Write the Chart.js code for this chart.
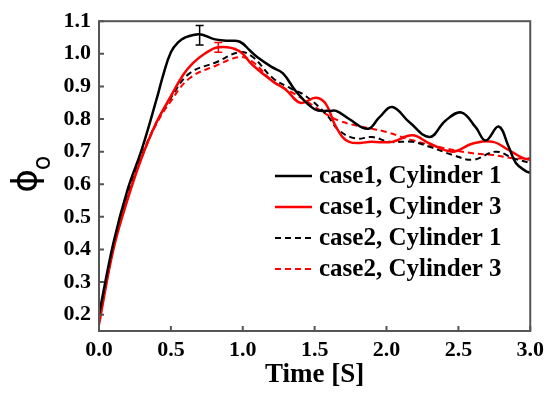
<!DOCTYPE html>
<html>
<head>
<meta charset="utf-8">
<script src="https://cdn.jsdelivr.net/npm/chart.js@4/dist/chart.umd.min.js"></script>
<style>
html, body { margin: 0; padding: 0; background: #fff; }
</style>
</head>
<body>
<canvas id="graph_phi" width="550" height="395"></canvas>
<script>
// case1, Cylinder 1
var c1cy1_t = [0, 0.1, 0.2, 0.3, 0.4, 0.45, 0.5, 0.55, 0.6, 0.7, 0.8, 0.9, 0.98, 1.05, 1.1, 1.2, 1.28, 1.37, 1.5, 1.6, 1.65, 1.74, 1.87, 1.95, 2.04, 2.16, 2.3, 2.41, 2.52, 2.62, 2.69, 2.78, 2.85, 2.9, 2.97, 3.0];
var c1cy1_v = [0.20, 0.42, 0.585, 0.71, 0.86, 0.94, 1.005, 1.035, 1.05, 1.06, 1.045, 1.04, 1.037, 1.01, 0.99, 0.96, 0.94, 0.885, 0.83, 0.825, 0.825, 0.80, 0.77, 0.805, 0.837, 0.79, 0.745, 0.795, 0.82, 0.775, 0.734, 0.777, 0.715, 0.665, 0.64, 0.635];
// case1, Cylinder 3
var c1cy3_t = [0, 0.1, 0.2, 0.3, 0.4, 0.5, 0.585, 0.65, 0.735, 0.83, 0.97, 1.07, 1.21, 1.3, 1.4, 1.51, 1.58, 1.65, 1.74, 1.9, 2.04, 2.18, 2.3, 2.46, 2.6, 2.74, 2.85, 2.95, 3.0];
var c1cy3_v = [0.17, 0.40, 0.555, 0.685, 0.79, 0.87, 0.935, 0.97, 1.0, 1.02, 1.01, 0.965, 0.915, 0.89, 0.85, 0.865, 0.845, 0.775, 0.73, 0.73, 0.73, 0.75, 0.725, 0.70, 0.725, 0.73, 0.705, 0.68, 0.675];
// case2, Cylinder 1
var c2cy1_t = [0, 0.1, 0.2, 0.3, 0.4, 0.5, 0.63, 0.82, 0.98, 1.07, 1.21, 1.33, 1.44, 1.58, 1.67, 1.79, 1.9, 2.02, 2.18, 2.3, 2.46, 2.6, 2.76, 2.88, 3.0];
var c2cy1_v = [0.19, 0.41, 0.565, 0.69, 0.79, 0.865, 0.94, 0.975, 1.005, 0.99, 0.925, 0.895, 0.87, 0.815, 0.765, 0.74, 0.745, 0.73, 0.73, 0.715, 0.69, 0.675, 0.70, 0.68, 0.665];
// case2, Cylinder 3
var c2cy3_t = [0, 0.1, 0.2, 0.3, 0.4, 0.5, 0.63, 0.82, 0.98, 1.07, 1.21, 1.33, 1.44, 1.58, 1.67, 1.79, 1.9, 2.0, 2.18, 2.41, 2.6, 2.74, 2.88, 3.0];
var c2cy3_v = [0.18, 0.405, 0.56, 0.685, 0.785, 0.855, 0.925, 0.965, 0.99, 0.975, 0.915, 0.885, 0.855, 0.815, 0.795, 0.78, 0.77, 0.76, 0.735, 0.71, 0.695, 0.69, 0.68, 0.68];

// error bars (series index, time, low, high)
var err_series = [0, 1];
var err_t = [0.70, 0.83];
var err_low = [1.027, 1.005];
var err_high = [1.087, 1.035];

var xTicks = [0, 0.5, 1.0, 1.5, 2.0, 2.5, 3.0];
var yTicks = [0.2, 0.3, 0.4, 0.5, 0.6, 0.7, 0.8, 0.9, 1.0, 1.1];

function pts(t, v) {
    return t.map(function (x, i) { return { x: x, y: v[i] }; });
}

var serif = "'Liberation Serif', 'Times New Roman', serif";

var framePlugin = {
    id: 'frame',
    afterDraw: function (chart) {
        var ctx = chart.ctx, a = chart.chartArea;
        var xs = chart.scales.x, ys = chart.scales.y;
        ctx.save();

        // error bars
        ctx.lineWidth = 1.5;
        for (var i = 0; i < err_t.length; i++) {
            var px = xs.getPixelForValue(err_t[i]);
            var p1 = ys.getPixelForValue(err_low[i]);
            var p2 = ys.getPixelForValue(err_high[i]);
            ctx.strokeStyle = chart.data.datasets[err_series[i]].borderColor;
            ctx.beginPath();
            ctx.moveTo(px, p1); ctx.lineTo(px, p2);
            ctx.moveTo(px - 4, p1); ctx.lineTo(px + 4, p1);
            ctx.moveTo(px - 4, p2); ctx.lineTo(px + 4, p2);
            ctx.stroke();
        }

        // frame + inward ticks
        ctx.strokeStyle = '#555';
        ctx.lineWidth = 2;
        ctx.strokeRect(a.left, a.top, a.right - a.left, a.bottom - a.top);
        ctx.beginPath();
        xs.ticks.forEach(function (t) {
            var p = xs.getPixelForValue(t.value);
            ctx.moveTo(p, a.bottom); ctx.lineTo(p, a.bottom - 5);
        });
        ys.ticks.forEach(function (t) {
            var p = ys.getPixelForValue(t.value);
            ctx.moveTo(a.left, p); ctx.lineTo(a.left + 5, p);
        });
        ctx.stroke();

        // legend inside the plot
        ctx.font = "bold 25px " + serif;
        ctx.textBaseline = 'middle';
        ctx.textAlign = 'left';
        chart.data.datasets.forEach(function (ds, k) {
            var y = 176 + k * 31;
            ctx.strokeStyle = ds.borderColor;
            ctx.lineWidth = ds.borderWidth;
            ctx.setLineDash(ds.borderDash || []);
            ctx.beginPath();
            ctx.moveTo(275, y); ctx.lineTo(312, y);
            ctx.stroke();
            ctx.setLineDash([]);
            ctx.fillStyle = '#000';
            ctx.fillText(ds.label, 319, y + 1);
        });

        // y axis title: phi with subscript o
        ctx.translate(27, 181);
        ctx.rotate(-Math.PI / 2);
        ctx.fillStyle = '#000';
        ctx.textAlign = 'center';
        ctx.textBaseline = 'alphabetic';
        ctx.font = "36px 'DejaVu Sans', sans-serif";
        ctx.fillText('\u03d5', 0, 10);
        ctx.font = "24px 'DejaVu Sans', sans-serif";
        ctx.fillText('o', 18, 23);
        ctx.restore();
    }
};

var ctx = document.getElementById("graph_phi");

var myChart_phi = new Chart(ctx, {
    type: 'line',
    data: {
        datasets: [{
            label: 'case1, Cylinder 1',
            data: pts(c1cy1_t, c1cy1_v),
            borderColor: '#000000',
            borderWidth: 2.5
        }, {
            label: 'case1, Cylinder 3',
            data: pts(c1cy3_t, c1cy3_v),
            borderColor: '#ff0000',
            borderWidth: 2.5
        }, {
            label: 'case2, Cylinder 1',
            data: pts(c2cy1_t, c2cy1_v),
            borderColor: '#000000',
            borderWidth: 2,
            borderDash: [6, 4]
        }, {
            label: 'case2, Cylinder 3',
            data: pts(c2cy3_t, c2cy3_v),
            borderColor: '#ff0000',
            borderWidth: 2,
            borderDash: [6, 4]
        }]
    },
    options: {
        responsive: false,
        animation: false,
        devicePixelRatio: 1,
        elements: {
            point: { radius: 0 },
            line: { tension: 0.4, fill: false }
        },
        layout: {
            padding: { left: 0, right: 19, top: 15, bottom: 0 }
        },
        plugins: {
            legend: { display: false },
            tooltip: { enabled: false }
        },
        scales: {
            x: {
                type: 'linear',
                min: 0,
                max: 3,
                grid: { display: false, drawTicks: false },
                border: { display: false },
                afterBuildTicks: function (s) {
                    s.ticks = xTicks.map(function (v) { return { value: v }; });
                },
                afterFit: function (s) { s.height = 64; },
                ticks: {
                    padding: 6,
                    color: '#000',
                    font: { family: serif, size: 22, weight: 'bold' },
                    callback: function (v) { return v.toFixed(1); }
                },
                title: {
                    display: true,
                    text: 'Time [S]',
                    color: '#000',
                    font: { family: serif, size: 27, weight: 'bold' },
                    padding: { top: 0, bottom: 4 }
                }
            },
            y: {
                min: 0.15,
                max: 1.1,
                grid: { display: false, drawTicks: false },
                border: { display: false },
                afterBuildTicks: function (s) {
                    s.ticks = yTicks.map(function (v) { return { value: v }; });
                },
                afterFit: function (s) { s.width = 99; },
                ticks: {
                    padding: 8,
                    color: '#000',
                    font: { family: serif, size: 22, weight: 'bold' },
                    callback: function (v) { return v.toFixed(1); }
                }
            }
        }
    },
    plugins: [framePlugin]
});
</script>
</body>
</html>
